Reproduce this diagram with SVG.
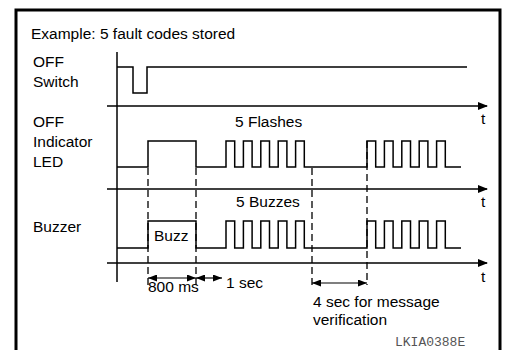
<svg xmlns="http://www.w3.org/2000/svg" width="507" height="350" viewBox="0 0 507 350">
<style>
text{font-family:"Liberation Sans",Arial,sans-serif;font-size:15.5px;fill:#000}
.sig{fill:none;stroke:#000;stroke-width:1.5}
.ax{fill:none;stroke:#000;stroke-width:1.5}
.dash{fill:none;stroke:#000;stroke-width:1.3;stroke-dasharray:7,4}
.dim{fill:none;stroke:#000;stroke-width:1.2}
.code{font-family:"Liberation Mono","Courier New",monospace;font-size:13px;fill:#555}
</style>
<defs>
<marker id="ah" markerWidth="10" markerHeight="8" refX="9" refY="4" orient="auto" markerUnits="userSpaceOnUse">
<path d="M0,0 L10,4 L0,8 Z" fill="#000"/>
</marker>
<marker id="dh" markerWidth="9" markerHeight="7" refX="9" refY="3.5" orient="auto-start-reverse" markerUnits="userSpaceOnUse">
<path d="M0,0 L9,3.5 L0,7 Z" fill="#000"/>
</marker>
</defs>
<rect x="0" y="0" width="507" height="350" fill="#fff"/>
<path d="M16,352 V10 H500 V352" fill="none" stroke="#000" stroke-width="3"/>
<text x="31" y="39">Example: 5 fault codes stored</text>

<g id="switch">
<text x="33" y="67">OFF</text>
<text x="33" y="87">Switch</text>
<path class="sig" d="M117,67 H133 V93 H147 V67 H467"/>
</g>

<g id="led">
<text x="33" y="127">OFF</text>
<text x="33" y="147">Indicator</text>
<text x="33" y="167">LED</text>
<text x="235" y="127">5 Flashes</text>
<path class="sig" d="M117,167 H148 V141 H196 V167 H226 V141 H234.7 V167 H243.4 V141 H252.1 V167 H260.8 V141 H269.5 V167 H278.2 V141 H286.9 V167 H295.6 V141 H304.3 V167 H367 V141 H375.7 V167 H384.4 V141 H393.1 V167 H401.8 V141 H410.5 V167 H419.2 V141 H427.9 V167 H436.6 V141 H445.3 V167 H461"/>
</g>

<g id="buzzer">
<text x="33" y="232">Buzzer</text>
<text x="236" y="207">5 Buzzes</text>
<text x="154" y="241">Buzz</text>
<path class="sig" d="M117,248 H148 V221 H196 V248 H226 V221 H234.7 V248 H243.4 V221 H252.1 V248 H260.8 V221 H269.5 V248 H278.2 V221 H286.9 V248 H295.6 V221 H304.3 V248 H367 V221 H375.7 V248 H384.4 V221 H393.1 V248 H401.8 V221 H410.5 V248 H419.2 V221 H427.9 V248 H436.6 V221 H445.3 V248 H461"/>
</g>

<g id="axes">
<path class="ax" d="M117,52 V282"/>
<path class="ax" d="M107,106 H487" marker-end="url(#ah)"/>
<path class="ax" d="M107,189 H487" marker-end="url(#ah)"/>
<path class="ax" d="M107,263 H487" marker-end="url(#ah)"/>
<text x="481" y="124">t</text>
<text x="481" y="207">t</text>
<text x="481" y="282">t</text>
</g>

<g id="connectors">
<path class="dash" d="M148,168 V287"/>
<path class="dash" d="M196,168 V287"/>
<path class="dash" d="M312,168 V287"/>
<path class="dash" d="M367,141 V285"/>
<path class="dim" d="M148,278 H196" marker-start="url(#dh)" marker-end="url(#dh)"/>
<path class="dim" d="M196,278 H222" marker-start="url(#dh)" marker-end="url(#dh)"/>
<path class="dim" d="M312,283 H367" marker-start="url(#dh)" marker-end="url(#dh)"/>
</g>

<g id="labels">
<text x="148" y="292">800 ms</text>
<text x="226" y="288">1 sec</text>
<text x="313" y="307">4 sec for message</text>
<text x="313" y="325">verification</text>
<text class="code" x="395" y="346">LKIA0388E</text>
</g>
</svg>
